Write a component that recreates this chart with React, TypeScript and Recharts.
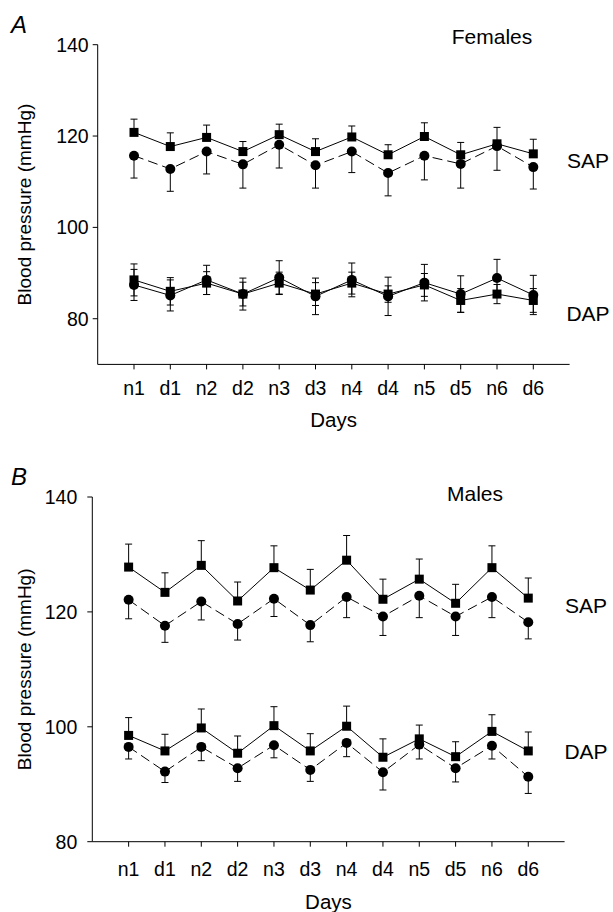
import { LineChart, Line, XAxis, YAxis, ErrorBar } from "recharts"

const days = ["n1", "d1", "n2", "d2", "n3", "d3", "n4", "d4", "n5", "d5", "n6", "d6"]
const yTicks = [80, 100, 120, 140]

// Females (panel A)
const femaleSapSquare = [120.8, 117.7, 119.7, 116.6, 120.3, 116.6, 119.8, 115.9, 119.9, 115.9, 118.3, 116.1]
const femaleSapSquareErr = [2.9, 3.0, 2.7, 2.2, 2.3, 2.8, 2.4, 2.2, 3.0, 2.7, 3.6, 3.2]
const femaleSapCircle = [115.7, 112.8, 116.6, 113.8, 118.1, 113.6, 116.6, 111.9, 115.7, 113.9, 117.8, 113.2]
const femaleSapCircleErr = [4.9, 4.9, 4.9, 5.2, 5.1, 5.0, 4.6, 5.0, 5.3, 5.3, 5.3, 4.8]
const femaleDapSquare = [88.5, 86.0, 87.8, 85.4, 87.8, 85.4, 87.8, 85.4, 87.4, 84.0, 85.4, 84.0]
const femaleDapSquareErr = [3.5, 3.0, 2.5, 2.6, 2.4, 2.5, 2.4, 1.8, 2.5, 2.6, 2.1, 2.6]
const femaleDapCircle = [87.4, 85.1, 88.5, 85.4, 89.0, 84.9, 88.5, 84.9, 87.9, 85.4, 88.9, 85.2]
const femaleDapCircleErr = [3.4, 3.4, 3.2, 3.5, 3.7, 4.0, 3.7, 4.2, 4.0, 4.0, 4.1, 4.3]

// Males (panel B)
const maleSapSquare = [127.8, 123.4, 128.1, 121.9, 127.7, 123.8, 129.0, 122.2, 125.7, 121.5, 127.7, 122.4]
const maleSapSquareErr = [4.0, 3.4, 4.3, 3.3, 3.8, 3.6, 4.3, 3.5, 3.5, 3.3, 3.8, 3.5]
const maleSapCircle = [122.1, 117.6, 121.8, 117.9, 122.3, 117.7, 122.6, 119.2, 122.8, 119.2, 122.6, 118.2]
const maleSapCircleErr = [3.3, 2.9, 3.2, 2.8, 3.1, 2.9, 3.6, 3.3, 3.8, 3.3, 3.6, 2.9]
const maleDapSquare = [98.5, 95.8, 99.8, 95.4, 100.2, 95.8, 100.1, 94.7, 97.9, 94.8, 99.2, 95.8]
const maleDapSquareErr = [3.1, 2.9, 3.3, 3.0, 3.3, 3.0, 3.5, 3.2, 2.4, 2.6, 2.9, 3.3]
const maleDapCircle = [96.5, 92.2, 96.5, 92.8, 96.8, 92.5, 97.2, 92.1, 96.9, 92.8, 96.7, 91.3]
const maleDapCircleErr = [2.1, 1.9, 2.4, 2.3, 2.2, 2.0, 2.4, 3.1, 2.5, 2.4, 2.3, 2.9]

const femaleRows = days.map((d, i) => ({
  x: i + 1,
  sapSq: femaleSapSquare[i],
  sapSqErr: [0, femaleSapSquareErr[i]],
  sapCi: femaleSapCircle[i],
  sapCiErr: [femaleSapCircleErr[i], 0],
  dapSq: femaleDapSquare[i],
  dapSqErr: femaleDapSquareErr[i],
  dapCi: femaleDapCircle[i],
  dapCiErr: femaleDapCircleErr[i],
}))

const maleRows = days.map((d, i) => ({
  x: i + 1,
  sapSq: maleSapSquare[i],
  sapSqErr: [0, maleSapSquareErr[i]],
  sapCi: maleSapCircle[i],
  sapCiErr: [maleSapCircleErr[i], 0],
  dapSq: maleDapSquare[i],
  dapSqErr: [0, maleDapSquareErr[i]],
  dapCi: maleDapCircle[i],
  dapCiErr: [maleDapCircleErr[i], 0],
}))

const Square = (p: any) => {
  if (p.cx == null || p.cy == null) return <g key={`s-${p.index}`} />
  return <rect key={`s-${p.index}`} x={p.cx - 4.5} y={p.cy - 4.5} width={9} height={9} fill="#000" />
}

const Dot = (p: any) => {
  if (p.cx == null || p.cy == null) return <g key={`c-${p.index}`} />
  return <circle key={`c-${p.index}`} cx={p.cx} cy={p.cy} r={5} fill="#000" />
}

const tickStyle = { fill: "#000", fontSize: 19.5 }

function Panel(props: any) {
  const { rows, domain, height, top, right, axisW, xAxisH, xTickMargin, yTickMargin, daysOffset } = props
  return (
    <LineChart width={613} height={height} data={rows} margin={{ top, right, left: 0, bottom: 0 }}>
      <XAxis
        type="number"
        dataKey="x"
        domain={[0, 13]}
        ticks={days.map((d, i) => i + 1)}
        interval={0}
        tickFormatter={(v) => days[v - 1]}
        height={xAxisH}
        tickSize={5}
        tickMargin={xTickMargin}
        stroke="#000"
        tick={tickStyle}
        label={{ value: "Days", position: "insideBottom", offset: daysOffset, fill: "#000", fontSize: 20.5 }}
      />
      <YAxis
        type="number"
        domain={domain}
        ticks={yTicks}
        width={axisW}
        tickSize={5}
        tickMargin={yTickMargin}
        stroke="#000"
        tick={tickStyle}
        allowDataOverflow
        label={{
          value: "Blood pressure (mmHg)",
          angle: -90,
          position: "insideLeft",
          offset: 24,
          fill: "#000",
          fontSize: 19,
          style: { textAnchor: "middle" },
        }}
      />
      <Line dataKey="sapSq" stroke="#000" strokeWidth={1} dot={Square} activeDot={false} isAnimationActive={false}>
        <ErrorBar dataKey="sapSqErr" direction="y" width={3.5} stroke="#000" strokeWidth={1} />
      </Line>
      <Line dataKey="sapCi" stroke="#000" strokeWidth={1} strokeDasharray="10 5" dot={Dot} activeDot={false} isAnimationActive={false}>
        <ErrorBar dataKey="sapCiErr" direction="y" width={3.5} stroke="#000" strokeWidth={1} />
      </Line>
      <Line dataKey="dapSq" stroke="#000" strokeWidth={1} dot={Square} activeDot={false} isAnimationActive={false}>
        <ErrorBar dataKey="dapSqErr" direction="y" width={3.5} stroke="#000" strokeWidth={1} />
      </Line>
      <Line dataKey="dapCi" stroke="#000" strokeWidth={1} strokeDasharray={props.dapDash} dot={Dot} activeDot={false} isAnimationActive={false}>
        <ErrorBar dataKey="dapCiErr" direction="y" width={3.5} stroke="#000" strokeWidth={1} />
      </Line>
    </LineChart>
  )
}

const note = (text: string, x: number, y: number, size = 21, italic = false) => (
  <div
    key={text + y}
    style={{
      position: "absolute",
      left: x,
      top: y,
      transform: "translate(-50%, -50%)",
      fontSize: size,
      lineHeight: 1,
      whiteSpace: "nowrap",
      fontStyle: italic ? "italic" : "normal",
    }}
  >
    {text}
  </div>
)

export default function App() {
  return (
    <div
      style={{
        position: "absolute",
        left: 0,
        top: 0,
        width: 613,
        height: 912,
        background: "#fff",
        color: "#000",
        fontFamily: '"Liberation Sans", Arial, sans-serif',
      }}
    >
      <div style={{ position: "absolute", left: 0, top: 0 }}>
        <Panel
          rows={femaleRows}
          domain={[70, 140]}
          height={440}
          top={44.7}
          right={43.4}
          axisW={97.7}
          xAxisH={75.6}
          xTickMargin={12}
          yTickMargin={4}
          daysOffset={12.6}
          dapDash={undefined}
        />
      </div>
      <div style={{ position: "absolute", left: 0, top: 450 }}>
        <Panel
          rows={maleRows}
          domain={[80, 140]}
          height={462}
          top={47}
          right={48.4}
          axisW={92.3}
          xAxisH={70.3}
          xTickMargin={15}
          yTickMargin={10}
          daysOffset={2.7}
          dapDash="10 5"
        />
      </div>
      {note("A", 19, 25, 24, true)}
      {note("Females", 492, 36)}
      {note("SAP", 588, 160)}
      {note("DAP", 588, 313)}
      {note("B", 19, 477, 24, true)}
      {note("Males", 475, 493)}
      {note("SAP", 586, 605)}
      {note("DAP", 586, 751)}
    </div>
  )
}
